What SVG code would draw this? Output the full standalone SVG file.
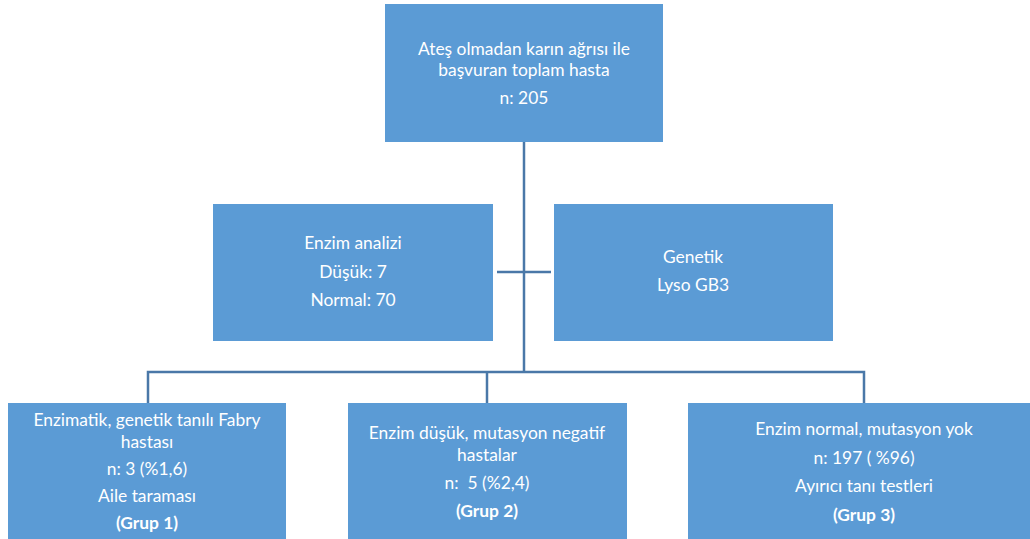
<svg xmlns="http://www.w3.org/2000/svg" width="1030" height="539" viewBox="0 0 1030 539">
  <style>
    .box { fill: #5B9BD5; }
    .t { font-family: Lato, "Open Sans", "Liberation Sans", sans-serif; font-size: 17.4px; fill: #FFFFFF; text-anchor: middle; }
    .b { font-weight: bold; }
    .link { fill: none; stroke: #4A78A8; stroke-width: 2.5; }
  </style>
  <rect width="1030" height="539" fill="#FFFFFF"/>

  <g id="connectors">
    <path class="link" d="M524 142 V372"/>
    <path class="link" d="M497 272 H551"/>
    <path class="link" d="M148 403 V372 H864 V403"/>
    <path class="link" d="M487 372 V403"/>
  </g>

  <g id="total">
    <rect class="box" x="385" y="4" width="278" height="138"/>
    <text class="t" x="524" y="55">Ateş olmadan karın ağrısı ile</text>
    <text class="t" x="524" y="76">başvuran toplam hasta</text>
    <text class="t" x="524" y="104">n: 205</text>
  </g>

  <g id="enzyme">
    <rect class="box" x="213" y="204" width="280" height="137"/>
    <text class="t" x="353" y="249">Enzim analizi</text>
    <text class="t" x="353" y="278">Düşük: 7</text>
    <text class="t" x="353" y="306">Normal: 70</text>
  </g>

  <g id="genetic">
    <rect class="box" x="554" y="204" width="279" height="137"/>
    <text class="t" x="693" y="263">Genetik</text>
    <text class="t" x="693" y="291">Lyso GB3</text>
  </g>

  <g id="group1">
    <rect class="box" x="8" y="403" width="278" height="140"/>
    <text class="t" x="147" y="426">Enzimatik, genetik tanılı Fabry</text>
    <text class="t" x="147" y="448">hastası</text>
    <text class="t" x="147" y="475">n: 3 (%1,6)</text>
    <text class="t" x="147" y="502">Aile taraması</text>
    <text class="t b" x="147" y="529">(Grup 1)</text>
  </g>

  <g id="group2">
    <rect class="box" x="348" y="403" width="279" height="140"/>
    <text class="t" x="487" y="439">Enzim düşük, mutasyon negatif</text>
    <text class="t" x="487" y="461">hastalar</text>
    <text class="t" x="487" y="489" xml:space="preserve">n:  5 (%2,4)</text>
    <text class="t b" x="487" y="517">(Grup 2)</text>
  </g>

  <g id="group3">
    <rect class="box" x="688" y="403" width="350" height="140"/>
    <text class="t" x="864" y="435">Enzim normal, mutasyon yok</text>
    <text class="t" x="864" y="464">n: 197 ( %96)</text>
    <text class="t" x="864" y="492">Ayırıcı tanı testleri</text>
    <text class="t b" x="864" y="521">(Grup 3)</text>
  </g>
</svg>
